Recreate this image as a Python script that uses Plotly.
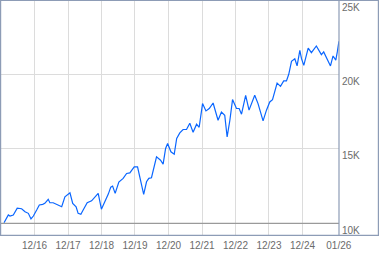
import plotly.graph_objects as go

dates = [
    "2016-01-03", "2016-02-19", "2016-03-08", "2016-04-13", "2016-05-26", "2016-07-13",
    "2016-08-19", "2016-09-24", "2016-10-23", "2016-11-18", "2016-12-24", "2017-01-22",
    "2017-02-28", "2017-03-23", "2017-04-29", "2017-05-17", "2017-06-22", "2017-07-29",
    "2017-09-23", "2017-10-28", "2017-12-22", "2018-01-21", "2018-02-27", "2018-03-21",
    "2018-04-20", "2018-05-15", "2018-06-28", "2018-08-15", "2018-10-01", "2018-10-26",
    "2018-11-30", "2019-01-08", "2019-02-13", "2019-03-12", "2019-04-01", "2019-04-29",
    "2019-06-08", "2019-07-25", "2019-09-01", "2019-10-06", "2019-11-23", "2019-12-29",
    "2020-01-24", "2020-03-05", "2020-04-05", "2020-04-30", "2020-05-29", "2020-07-23",
    "2020-09-05", "2020-10-03", "2020-10-30", "2020-11-21", "2020-12-27", "2021-02-01",
    "2021-02-28", "2021-04-03", "2021-05-09", "2021-06-15", "2021-07-21", "2021-08-26",
    "2021-10-03", "2021-10-31", "2021-12-07", "2022-01-13", "2022-02-18", "2022-04-01",
    "2022-05-25", "2022-07-01", "2022-08-06", "2022-09-01", "2022-10-01", "2022-10-30",
    "2022-12-12", "2023-01-10", "2023-02-05", "2023-03-22", "2023-04-28", "2023-06-29",
    "2023-08-04", "2023-09-28", "2023-11-04", "2023-12-10", "2024-01-09", "2024-02-03",
    "2024-02-28", "2024-04-05", "2024-05-10", "2024-06-09", "2024-07-04", "2024-08-03",
    "2024-09-08", "2024-10-03", "2024-11-02", "2024-11-20", "2024-12-15", "2025-02-01",
    "2025-03-08", "2025-05-01", "2025-06-25", "2025-07-20", "2025-08-25", "2025-10-02",
    "2025-10-30", "2025-11-29", "2025-12-17", "2026-01-02",
]
values = [
    10040, 10560, 10490, 10560, 11010, 10980,
    10780, 10670, 10290, 10490, 10890, 11230,
    11270, 11340, 11610, 11380, 11380, 11290,
    11110, 11780, 12050, 11340, 11110, 10670,
    10600, 10890, 11380, 11510, 11830, 12010,
    10950, 11430, 11960, 12430, 12500, 12010,
    12770, 13020, 13350, 13390, 13790, 13790,
    13120, 11940, 12790, 13020, 13060, 14460,
    14240, 13970, 15030, 15360, 14800, 14640,
    15700, 16070, 16300, 16300, 16720, 16110,
    16660, 16450, 18040, 17550, 17710, 18080,
    16920, 17480, 17260, 15800, 16920, 18310,
    17710, 17710, 17330, 18600, 17600, 18600,
    18040, 16880, 17600, 18150, 18310, 18930,
    19420, 19200, 19570, 19570, 20010, 20880,
    21050, 20580, 21620, 21060, 20610, 21770,
    21460, 21910, 21330, 21510, 21060, 20570,
    21240, 20960, 21560, 22230,
]

x_ticks = ["2016-12-01", "2017-12-01", "2018-12-01", "2019-12-01", "2020-12-01",
           "2021-12-01", "2022-12-01", "2023-12-01", "2024-12-01", "2026-01-01"]
x_labels = ["12/16", "12/17", "12/18", "12/19", "12/20", "12/21", "12/22", "12/23", "12/24", "01/26"]
y_ticks = [10000, 15000, 20000, 25000]
y_labels = ["10K", "15K", "20K", "25K"]

W, H = 379, 255
ML, MR, MT, MB = 1, 40, 0, 20
PW = W - ML - MR
PH = H - MT - MB
FRAME = "#8d9cb6"
GRID = "#dcdcdc"
TXT = "#6b6b6b"
FONT = "Liberation Sans, Arial, sans-serif"

fig = go.Figure()
fig.add_trace(go.Scatter(x=dates, y=values, mode="lines",
                         line=dict(color="#0a66ff", width=1.2), hoverinfo="skip",
                         showlegend=False))

fig.update_layout(
    width=W, height=H,
    margin=dict(l=ML, r=MR, t=MT, b=MB, pad=0),
    paper_bgcolor="white", plot_bgcolor="white",
    font=dict(family=FONT, size=10, color=TXT),
    xaxis=dict(type="date", range=["2015-12-01", "2026-01-03"],
               tickvals=x_ticks, ticktext=x_labels, ticks="",
               showgrid=True, gridcolor=GRID, gridwidth=1,
               showline=False, zeroline=False, ticklabelstandoff=3,
               tickfont=dict(family=FONT, size=10, color=TXT)),
    yaxis=dict(range=[9214, 25000], side="right",
               tickvals=y_ticks, ticktext=y_labels, ticks="",
               ticklabelposition="outside bottom",
               showgrid=True, gridcolor=GRID, gridwidth=1,
               showline=False, zeroline=False, ticklabelstandoff=2,
               tickfont=dict(family=FONT, size=10, color=TXT)),
)

# baseline at the lowest tick
fig.add_shape(type="line", xref="paper", yref="y", x0=0, x1=1,
              y0=y_ticks[0], y1=y_ticks[0], line=dict(color="#9a9a9a", width=1.2), layer="above")

# frame: outer box and divider at plot right edge
px = lambda p: (p - ML) / PW
py = lambda p: 1 - (p - MT) / PH
fig.add_shape(type="rect", xref="paper", yref="paper",
              x0=px(0.6), x1=px(378.4), y0=py(235.4), y1=py(0.5),
              line=dict(color=FRAME, width=1.2), fillcolor="rgba(0,0,0,0)", layer="above")
fig.add_shape(type="line", xref="paper", yref="paper",
              x0=1, x1=1, y0=py(235.4), y1=py(0.5),
              line=dict(color=FRAME, width=1.2), layer="above")

fig.write_html("out.html")
